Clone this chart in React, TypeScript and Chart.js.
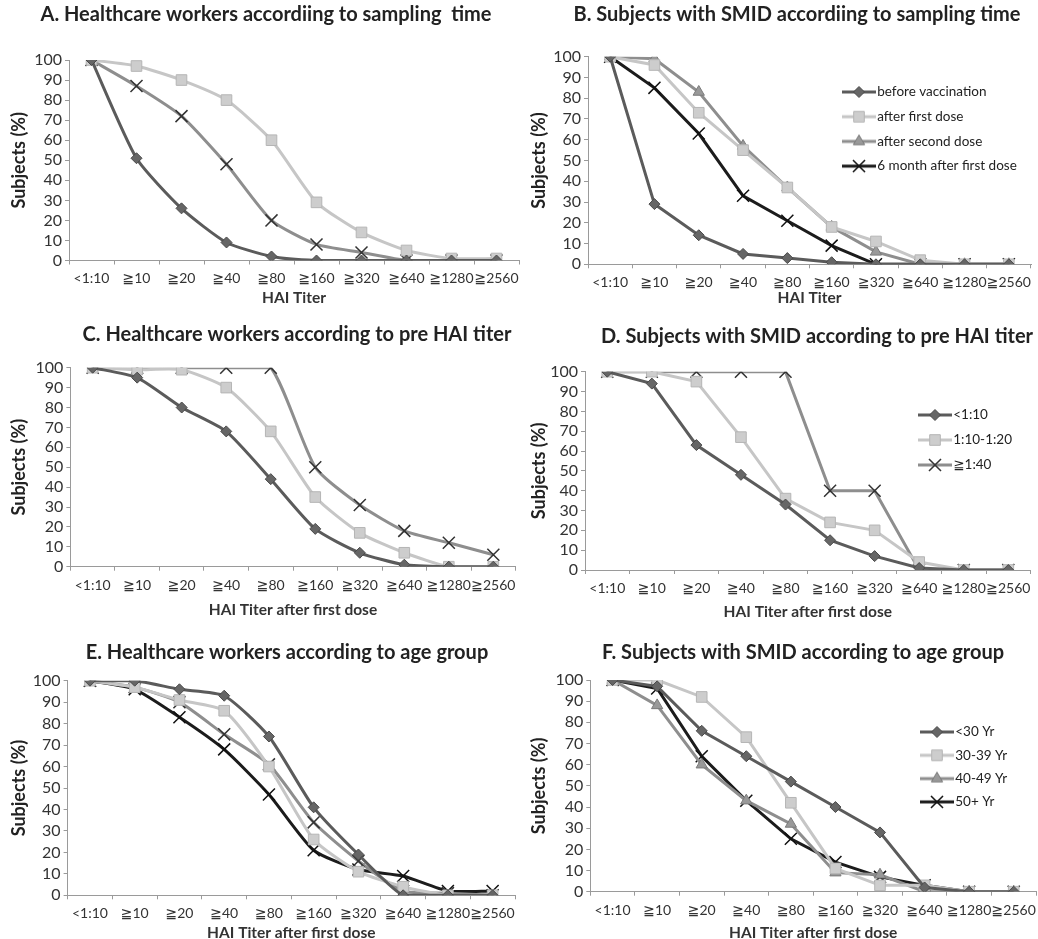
import React, { useEffect, useRef } from "react";
import { Chart, registerables } from "chart.js";
import { drawPoint } from "chart.js/helpers";

Chart.register(...registerables);

const FONT = "Lato, 'DejaVu Sans', sans-serif";

// ---------- data ----------
const titerLabels = ["<1:10", "≧10", "≧20", "≧40", "≧80", "≧160", "≧320", "≧640", "≧1280", "≧2560"];

const timeLabels = ["before vaccination", "after first dose", "after second dose", "6 month after first dose"];
const preLabels = ["<1:10", "1:10-1:20", "≧1:40"];
const ageLabels = ["<30 Yr", "30-39 Yr", "40-49 Yr", "50+ Yr"];

// A. Healthcare workers according to sampling time
const hcwTimeBefore = [100, 51, 26, 9, 2, 0, 0, 0, 0, 0];
const hcwTimeFirst = [100, 97, 90, 80, 60, 29, 14, 5, 1, 1];
const hcwTime6Month = [100, 87, 72, 48, 20, 8, 4, 0, 0, 0];
// B. Subjects with SMID according to sampling time
const smidTimeBefore = [100, 29, 14, 5, 3, 1, 0, 0, 0, 0];
const smidTimeFirst = [100, 96, 73, 55, 37, 18, 11, 2, 0, 0];
const smidTimeSecond = [100, 99, 83, 57, 37, 18, 6, 0, 0, 0];
const smidTime6Month = [100, 85, 63, 33, 21, 9, 0, 0, 0, 0];
// C. Healthcare workers according to pre HAI titer
const hcwPreLow = [100, 95, 80, 68, 44, 19, 7, 1, 0, 0];
const hcwPreMid = [100, 99, 99, 90, 68, 35, 17, 7, 0, 0];
const hcwPreHigh = [100, 100, 100, 100, 100, 50, 31, 18, 12, 6];
// D. Subjects with SMID according to pre HAI titer
const smidPreLow = [100, 94, 63, 48, 33, 15, 7, 1, 0, 0];
const smidPreMid = [100, 100, 95, 67, 36, 24, 20, 4, 0, 0];
const smidPreHigh = [100, 100, 100, 100, 100, 40, 40, 0, 0, 0];
// E. Healthcare workers according to age group
const hcwAgeU30 = [100, 100, 96, 93, 74, 41, 19, 0, 0, 0];
const hcwAge30s = [100, 97, 91, 86, 60, 26, 11, 4, 0, 0];
const hcwAge40s = [100, 97, 90, 75, 61, 34, 16, 2, 1, 0];
const hcwAge50p = [100, 96, 83, 68, 47, 21, 12, 9, 2, 2];
// F. Subjects with SMID according to age group
const smidAgeU30 = [100, 97, 76, 64, 52, 40, 28, 2, 0, 0];
const smidAge30s = [100, 100, 92, 73, 42, 11, 3, 3, 0, 0];
const smidAge40s = [100, 88, 60, 43, 32, 9, 8, 0, 0, 0];
const smidAge50p = [100, 96, 64, 43, 25, 14, 7, 3, 0, 0];

// ---------- styles ----------
type St = { color: string; fill: string; border: string; marker: string; radius: number; bw: number };
const STYLES: Record<string, St> = {
  dark: { color: "#5b5b5b", fill: "#666666", border: "#4a4a4a", marker: "rectRot", radius: 5.5, bw: 1 },
  light: { color: "#c6c6c6", fill: "#cdcdcd", border: "#b5b5b5", marker: "rect", radius: 7.5, bw: 1 },
  medium: { color: "#8e8e8e", fill: "#999999", border: "#7a7a7a", marker: "triangle", radius: 6.5, bw: 1 },
  mediumX: { color: "#8e8e8e", fill: "#333333", border: "#333333", marker: "crossRot", radius: 8.5, bw: 1.5 },
  black: { color: "#1c1c1c", fill: "#111111", border: "#111111", marker: "crossRot", radius: 8.5, bw: 1.5 },
};

type Series = { label: string; data: number[]; style: string };
type PanelCfg = {
  col: number;
  title: string;
  xTitle: string;
  area: { l: number; r: number; t: number; b: number };
  titleY: number;
  titleX: number;
  xTitleY: number;
  yTitleX: number;
  tension: number;
  series: Series[];
  legend?: { x: number; y: number; size: number; spacing: number };
};

const PANELS: PanelCfg[] = [
  {
    col: 0, title: "A. Healthcare workers accordiing to sampling  time", xTitle: "HAI Titer",
    area: { l: 69, r: 519, t: 60, b: 260.5 }, titleY: 15, titleX: 266, xTitleY: 298, yTitleX: 19, tension: 0.2,
    series: [
      { label: timeLabels[0], data: hcwTimeBefore, style: "dark" },
      { label: timeLabels[1], data: hcwTimeFirst, style: "light" },
      { label: timeLabels[3], data: hcwTime6Month, style: "mediumX" },
    ],
  },
  {
    col: 1, title: "B. Subjects with SMID accordiing to sampling time", xTitle: "HAI Titer",
    area: { l: 588, r: 1031, t: 56.7, b: 264.3 }, titleY: 15, titleX: 797, xTitleY: 298, yTitleX: 539, tension: 0,
    series: [
      { label: timeLabels[0], data: smidTimeBefore, style: "dark" },
      { label: timeLabels[1], data: smidTimeFirst, style: "light" },
      { label: timeLabels[2], data: smidTimeSecond, style: "medium" },
      { label: timeLabels[3], data: smidTime6Month, style: "black" },
    ],
    legend: { x: 842, y: 92, size: 13.5, spacing: 24.7 },
  },
  {
    col: 0, title: "C. Healthcare workers according to pre HAI titer", xTitle: "HAI Titer after first dose",
    area: { l: 70.4, r: 515.6, t: 367.7, b: 566.7 }, titleY: 335, titleX: 297, xTitleY: 610, yTitleX: 19, tension: 0.2,
    series: [
      { label: preLabels[0], data: hcwPreLow, style: "dark" },
      { label: preLabels[1], data: hcwPreMid, style: "light" },
      { label: preLabels[2], data: hcwPreHigh, style: "mediumX" },
    ],
  },
  {
    col: 1, title: "D. Subjects with SMID according to pre HAI titer", xTitle: "HAI Titer after first dose",
    area: { l: 585, r: 1030.6, t: 371.7, b: 570 }, titleY: 337, titleX: 817, xTitleY: 612, yTitleX: 539, tension: 0,
    series: [
      { label: preLabels[0], data: smidPreLow, style: "dark" },
      { label: preLabels[1], data: smidPreMid, style: "light" },
      { label: preLabels[2], data: smidPreHigh, style: "mediumX" },
    ],
    legend: { x: 918, y: 415, size: 13.5, spacing: 25 },
  },
  {
    col: 0, title: "E. Healthcare workers according to age group", xTitle: "HAI Titer after first dose",
    area: { l: 67.6, r: 515, t: 680.7, b: 895.3 }, titleY: 653, titleX: 287, xTitleY: 933, yTitleX: 19, tension: 0.2,
    series: [
      { label: ageLabels[0], data: hcwAgeU30, style: "dark" },
      { label: ageLabels[1], data: hcwAge30s, style: "light" },
      { label: ageLabels[2], data: hcwAge40s, style: "mediumX" },
      { label: ageLabels[3], data: hcwAge50p, style: "black" },
    ],
  },
  {
    col: 1, title: "F. Subjects with SMID according to age group", xTitle: "HAI Titer after first dose",
    area: { l: 590.3, r: 1036, t: 680, b: 891.7 }, titleY: 653, titleX: 803, xTitleY: 933, yTitleX: 539, tension: 0,
    series: [
      { label: ageLabels[0], data: smidAgeU30, style: "dark" },
      { label: ageLabels[1], data: smidAge30s, style: "light" },
      { label: ageLabels[2], data: smidAge40s, style: "medium" },
      { label: ageLabels[3], data: smidAge50p, style: "black" },
    ],
    legend: { x: 920, y: 732, size: 13.5, spacing: 23.3 },
  },
];

const TITLE_SIZE = 20;
const YTITLE_SIZE = 18;
const XTITLE_SIZE = 15.5;
const LH = 1.2;
const ICON_W = 34;
const BOX_W = 23;

function makeIcon(st: St): HTMLCanvasElement {
  const c = document.createElement("canvas");
  c.width = ICON_W;
  c.height = 18;
  const ctx = c.getContext("2d")!;
  ctx.strokeStyle = st.color;
  ctx.lineWidth = 3;
  ctx.beginPath();
  ctx.moveTo(0, 9);
  ctx.lineTo(ICON_W, 9);
  ctx.stroke();
  ctx.fillStyle = st.fill;
  ctx.strokeStyle = st.border;
  ctx.lineWidth = st.bw;
  drawPoint(ctx as any, { pointStyle: st.marker as any, radius: st.radius, rotation: 0, borderWidth: st.bw } as any, ICON_W / 2, 9);
  return c;
}

const panelLayout = {
  id: "panelLayout",
  afterLayout(chart: any, _args: any, opts: any) {
    const t = chart.titleBlock;
    if (t && opts.titleX != null) {
      const half = (t.right - t.left) / 2;
      t.left = opts.titleX - half;
      t.right = opts.titleX + half;
    }
    const lg = chart.legend;
    if (lg && opts.legendLeft != null) {
      lg.left = opts.legendLeft;
      lg.top = opts.legendTop;
      lg.width = 260;
      lg.height = 220;
      lg.right = lg.left + 260;
      lg.bottom = lg.top + 220;
    }
  },
};

function geometry(p: PanelCfg) {
  const titleLH = TITLE_SIZE * LH;
  const yTitleLH = YTITLE_SIZE * LH;
  const xTitleLH = XTITLE_SIZE * LH;
  const cl = Math.round(p.yTitleX - yTitleLH / 2);
  const ct = Math.round(p.titleY - 15);
  const cw = Math.round((p.col === 0 ? 545 : 1060) - cl);
  const ch = Math.round(p.xTitleY + xTitleLH / 2 - ct);
  const titlePadTop = p.titleY - ct - titleLH / 2;
  const titlePadBottom = p.area.t - ct - titlePadTop - titleLH;
  const yw = p.area.l - cl;
  const xh = ct + ch - p.area.b;
  const padRight = cl + cw - p.area.r;
  return { cl, ct, cw, ch, titlePadTop, titlePadBottom, yw, xh, padRight };
}

function buildConfig(p: PanelCfg): any {
  const g = geometry(p);
  const icons = p.series.map((s) => makeIcon(STYLES[s.style]));
  const datasets = p.series.map((s) => {
    const st = STYLES[s.style];
    return {
      label: s.label,
      data: s.data,
      borderColor: st.color,
      backgroundColor: st.color,
      borderWidth: 3,
      pointStyle: st.marker,
      pointRadius: st.radius,
      pointHoverRadius: st.radius,
      pointBackgroundColor: st.fill,
      pointBorderColor: st.border,
      pointBorderWidth: st.bw,
      tension: p.tension,
      fill: false,
    };
  });
  let legendOpts: any = { display: false };
  let layoutOpts: any = { titleX: p.titleX - g.cl };
  if (p.legend) {
    const pad = p.legend.spacing - p.legend.size;
    const cursorX = p.legend.x + ICON_W / 2 - BOX_W / 2;
    layoutOpts.legendLeft = cursorX - pad - g.cl;
    layoutOpts.legendTop = p.legend.y - pad - p.legend.size / 2 - g.ct;
    legendOpts = {
      display: true,
      position: "chartArea",
      align: "start",
      labels: {
        usePointStyle: true,
        pointStyleWidth: BOX_W,
        padding: pad,
        color: "#222",
        font: { family: FONT, size: p.legend.size },
        generateLabels: () =>
          p.series.map((s, i) => ({
            text: s.label,
            pointStyle: icons[i],
            fillStyle: "rgba(0,0,0,0)",
            strokeStyle: "rgba(0,0,0,0)",
            lineWidth: 0,
            hidden: false,
            datasetIndex: i,
            fontColor: "#222",
          })),
      },
    };
  }
  return {
    type: "line",
    data: { labels: titerLabels, datasets },
    plugins: [panelLayout],
    options: {
      responsive: false,
      maintainAspectRatio: false,
      animation: false,
      devicePixelRatio: 1,
      events: [],
      layout: { padding: { left: 0, top: 0, bottom: 0, right: g.padRight } },
      plugins: {
        panelLayout: layoutOpts,
        legend: legendOpts,
        tooltip: { enabled: false },
        title: {
          display: true,
          text: p.title,
          color: "#222",
          font: { family: FONT, size: TITLE_SIZE, weight: "bold", lineHeight: LH },
          padding: { top: g.titlePadTop, bottom: g.titlePadBottom },
        },
      },
      scales: {
        x: {
          type: "category",
          offset: true,
          afterFit: (scale: any) => {
            scale.height = g.xh;
          },
          grid: { display: true, offset: true, drawOnChartArea: false, drawTicks: true, tickLength: 4, color: "#9a9a9a" },
          border: { display: true, color: "#9a9a9a", width: 1 },
          ticks: {
            autoSkip: false,
            maxRotation: 0,
            minRotation: 0,
            padding: 6,
            color: "#333",
            font: { family: FONT, size: 14 },
          },
          title: {
            display: true,
            text: p.xTitle,
            color: "#333",
            font: { family: FONT, size: XTITLE_SIZE, weight: "bold", lineHeight: LH },
            padding: { top: 0, bottom: 0 },
          },
        },
        y: {
          min: 0,
          max: 100,
          afterFit: (scale: any) => {
            scale.width = g.yw;
          },
          grid: { display: true, drawOnChartArea: false, drawTicks: true, tickLength: 4, color: "#9a9a9a" },
          border: { display: true, color: "#9a9a9a", width: 1 },
          ticks: {
            stepSize: 10,
            autoSkip: false,
            maxTicksLimit: 20,
            padding: 3,
            color: "#333",
            font: { family: FONT, size: 16 },
          },
          title: {
            display: true,
            text: "Subjects (%)",
            color: "#222",
            font: { family: FONT, size: YTITLE_SIZE, weight: "bold", lineHeight: LH },
            padding: { top: 0, bottom: 0 },
          },
        },
      },
    },
  };
}

function Panel({ p }: { p: PanelCfg }) {
  const ref = useRef<HTMLCanvasElement>(null);
  const g = geometry(p);
  useEffect(() => {
    const c = ref.current;
    if (!c) return;
    const chart = new Chart(c, buildConfig(p));
    return () => chart.destroy();
  }, []);
  return (
    <canvas
      ref={ref}
      width={g.cw}
      height={g.ch}
      style={{ position: "absolute", left: g.cl, top: g.ct, width: g.cw, height: g.ch }}
    />
  );
}

export default function App() {
  return (
    <div
      style={{
        position: "absolute",
        left: 0,
        top: 0,
        width: 1038,
        height: 939,
        overflow: "hidden",
        background: "#ffffff",
      }}
    >
      {PANELS.map((p, i) => (
        <Panel key={i} p={p} />
      ))}
    </div>
  );
}
